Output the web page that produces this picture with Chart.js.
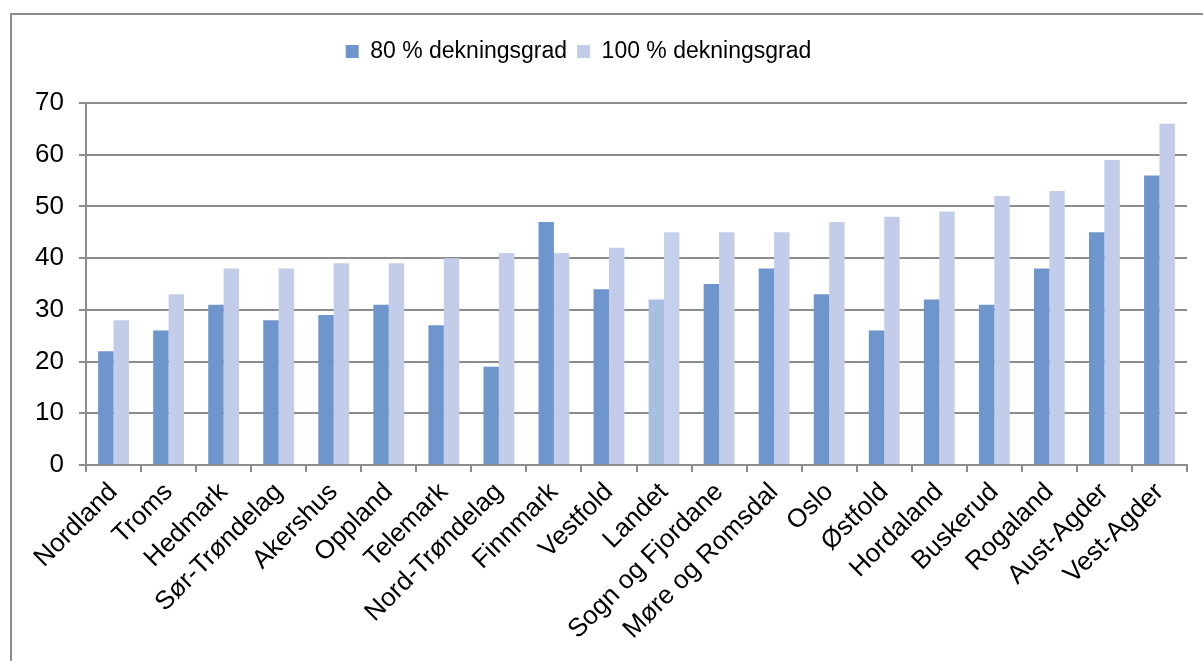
<!DOCTYPE html>
<html>
<head>
<meta charset="utf-8">
<script src="https://cdn.jsdelivr.net/npm/chart.js@4"></script>
<style>
  html, body { margin: 0; padding: 0; background: #fff; }
  #wrap { width: 1203px; height: 661px; }
</style>
</head>
<body>
<div id="wrap"><canvas id="myCanvas" width="1203" height="661"></canvas></div>
<script>
// fylker, sortert etter 100 % dekningsgrad
const fylker = ['Nordland', 'Troms', 'Hedmark', 'Sør-Trøndelag', 'Akershus', 'Oppland', 'Telemark',
  'Nord-Trøndelag', 'Finnmark', 'Vestfold', 'Landet', 'Sogn og Fjordane', 'Møre og Romsdal', 'Oslo',
  'Østfold', 'Hordaland', 'Buskerud', 'Rogaland', 'Aust-Agder', 'Vest-Agder'];
const dekning80 = [22, 26, 31, 28, 29, 31, 27, 19, 47, 34, 32, 35, 38, 33, 26, 32, 31, 38, 45, 56];
const dekning100 = [28, 33, 38, 38, 39, 39, 40, 41, 41, 42, 45, 45, 45, 47, 48, 49, 52, 53, 59, 66];
const yTicks = [0, 10, 20, 30, 40, 50, 60, 70];

const FONT = "'Liberation Sans', Arial, sans-serif";
const mork = '#6F96CC', lys = '#C3CDEA';
// "Landet" skiller seg ut med lysere farge
const farger80 = fylker.map(f => f === 'Landet' ? '#A9BFE1' : mork);
const farger100 = fylker.map(f => f === 'Landet' ? '#C5D1EC' : lys);

// ramme rundt hele figuren (venstre + topp)
const ramme = {
  id: 'ramme',
  afterDraw(chart) {
    const c = chart.ctx;
    c.save();
    c.strokeStyle = '#8c8c8c';
    c.lineWidth = 2;
    c.beginPath();
    c.moveTo(11, 661);
    c.lineTo(11, 14);
    c.lineTo(1203, 14);
    c.stroke();
    c.restore();
  }
};

// litt ekstra luft under legenden, og legenden flyttet litt mot venstre
const legendLuft = {
  id: 'legendLuft',
  beforeInit(chart) {
    const fit = chart.legend.fit;
    chart.legend.fit = function () {
      fit.bind(chart.legend)();
      this.height += 30;
    };
  },
  afterLayout(chart) {
    chart.legend.right -= 40;
  }
};

const ctx = document.getElementById('myCanvas').getContext('2d');
const myChart = new Chart(ctx, {
  type: 'bar',
  data: {
    labels: fylker,
    datasets: [
      { label: '80 % dekningsgrad', data: dekning80, backgroundColor: farger80,
        categoryPercentage: 0.56, barPercentage: 1.0 },
      { label: '100 % dekningsgrad', data: dekning100, backgroundColor: farger100,
        categoryPercentage: 0.56, barPercentage: 1.0 }
    ]
  },
  options: {
    responsive: false,
    animation: false,
    layout: { padding: { top: 30, left: 10, right: 16, bottom: 0 } },
    plugins: {
      legend: {
        position: 'top',
        labels: {
          font: { family: FONT, size: 23 },
          color: '#000',
          boxWidth: 13,
          boxHeight: 13,
          padding: 10
        }
      },
      tooltip: { enabled: false }
    },
    scales: {
      x: {
        offset: true,
        grid: { display: true, drawOnChartArea: false, tickLength: 7, color: '#8c8c8c', lineWidth: 2, offset: true },
        border: { color: '#8c8c8c', width: 2 },
        ticks: {
          font: { family: FONT, size: 26 },
          color: '#000',
          minRotation: 45,
          maxRotation: 45,
          autoSkip: false,
          padding: 5
        },
        afterFit(scale) { scale.height = 196; }
      },
      y: {
        min: 0,
        max: 70,
        afterBuildTicks(scale) { scale.ticks = yTicks.map(v => ({ value: v })); },
        grid: { color: '#8c8c8c', lineWidth: 2, tickLength: 7 },
        border: { color: '#8c8c8c', width: 2 },
        ticks: {
          font: { family: FONT, size: 26 },
          color: '#000',
          padding: 15
        },
        afterFit(scale) { scale.width = 76; }
      }
    }
  },
  plugins: [ramme, legendLuft]
});
</script>
</body>
</html>
